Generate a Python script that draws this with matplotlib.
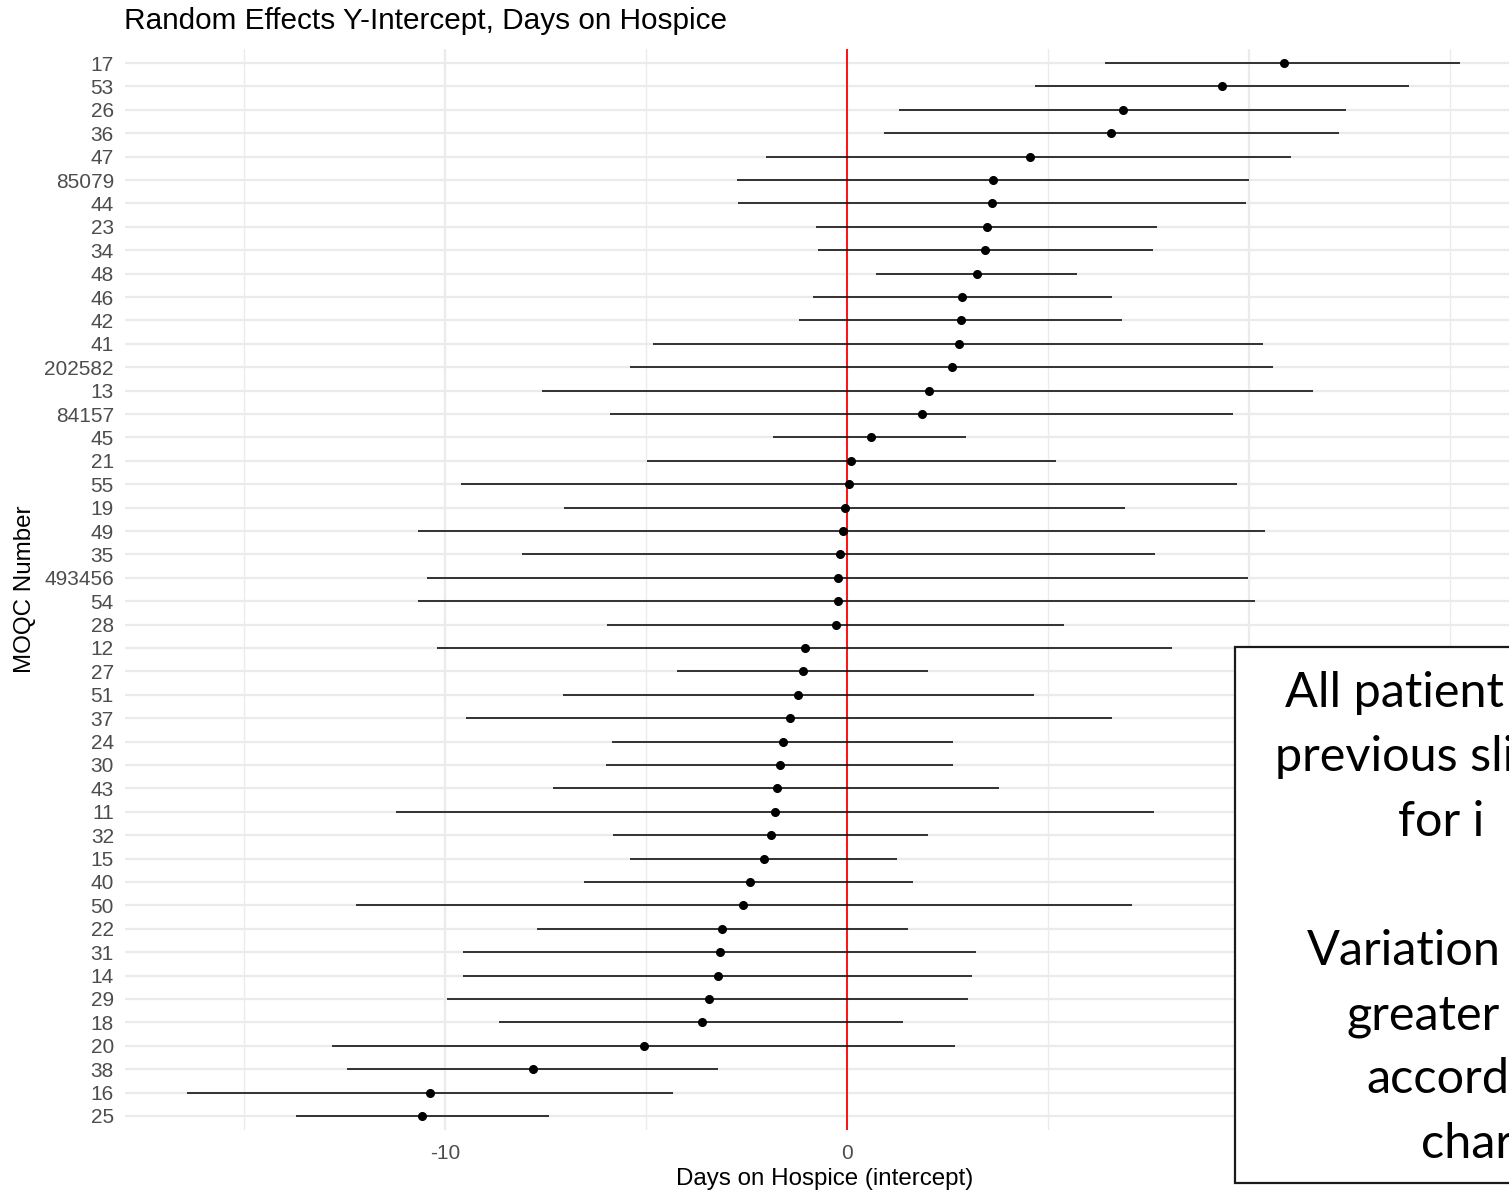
import numpy as np
import matplotlib
matplotlib.use("Agg")
import matplotlib.pyplot as plt
from matplotlib.patches import Rectangle

# MOQC numbers, top row first
moqc = ["17", "53", "26", "36", "47", "85079", "44", "23", "34", "48",
        "46", "42", "41", "202582", "13", "84157", "45", "21", "55", "19",
        "49", "35", "493456", "54", "28", "12", "27", "51", "37", "24",
        "30", "43", "11", "32", "15", "40", "50", "22", "31", "14",
        "29", "18", "20", "38", "16", "25"]

# random intercept estimate and interval ends (days)
est = [10.87, 9.33, 6.87, 6.57, 4.55, 3.63, 3.61, 3.48, 3.43, 3.23,
       2.86, 2.84, 2.79, 2.61, 2.04, 1.87, 0.60, 0.10, 0.05, -0.05,
       -0.10, -0.17, -0.22, -0.22, -0.27, -1.04, -1.09, -1.22, -1.42, -1.59,
       -1.67, -1.74, -1.79, -1.89, -2.06, -2.41, -2.59, -3.11, -3.16, -3.21,
       -3.43, -3.61, -5.05, -7.81, -10.37, -10.57]
lower = [6.42, 4.68, 1.29, 0.92, -2.01, -2.74, -2.71, -0.77, -0.72, 0.72,
         -0.85, -1.19, -4.83, -5.40, -7.59, -5.90, -1.84, -4.98, -9.60, -7.04,
         -10.67, -8.08, -10.45, -10.67, -5.97, -10.20, -4.23, -7.06, -9.48, -5.85,
         -6.00, -7.31, -11.22, -5.82, -5.40, -6.54, -12.21, -7.71, -9.55, -9.55,
         -9.95, -8.66, -12.81, -12.44, -16.42, -13.71]
upper = [15.25, 13.98, 12.41, 12.24, 11.04, 10.00, 9.93, 7.71, 7.61, 5.72,
         6.59, 6.84, 10.35, 10.60, 11.59, 9.60, 2.96, 5.20, 9.70, 6.92,
         10.40, 7.66, 9.98, 10.15, 5.40, 8.08, 2.01, 4.65, 6.59, 2.64,
         2.64, 3.78, 7.64, 2.01, 1.24, 1.64, 7.09, 1.52, 3.21, 3.11,
         3.01, 1.39, 2.69, -3.21, -4.33, -7.41]

x_ticks = [-10, 0, 10]
x_minor = [-15, -5, 5, 15]

# slide text box next to the chart (cut off at the right edge)
note_lines = ["All patient", "previous sli", "for i", "",
              "Variation", "greater", "accord", "char"]

W, H = 1509, 1192
plt.rcParams["font.family"] = ["Liberation Sans", "DejaVu Sans"]
plt.rcParams["axes.unicode_minus"] = False
fig = plt.figure(figsize=(W / 100, H / 100), dpi=100)

# axes runs a bit past the right edge, like the cropped slide
ax = fig.add_axes([125 / W, 1 - 1130 / H, (1524 - 125) / W, (1130 - 49) / H])

n = len(moqc)
ypos = np.arange(n)[::-1]

ax.hlines(ypos, lower, upper, color="black", lw=1.1, zorder=3)
ax.plot(est, ypos, "o", color="black", ms=5.5, zorder=4)
ax.axvline(0, color="red", lw=1.3, zorder=2)

ax.set_xlim(-17.96, 16.84)
ax.set_ylim(-0.6, n - 0.4)
ax.set_yticks(ypos)
ax.set_yticklabels(moqc)
ax.set_xticks(x_ticks)
ax.set_xticks(x_minor, minor=True)
ax.grid(which="major", color="#EBEBEB", lw=1.6, zorder=0)
ax.grid(which="minor", axis="x", color="#EBEBEB", lw=1.0, zorder=0)
ax.set_axisbelow(True)
for s in ax.spines.values():
    s.set_visible(False)
ax.tick_params(which="both", length=0)
ax.tick_params(axis="y", labelsize=15, labelcolor="#4D4D4D", pad=8)
ax.tick_params(axis="x", labelsize=15, labelcolor="#4D4D4D", pad=10)

ax.set_xlabel("Days on Hospice (intercept)", fontsize=17.4, labelpad=4)
ax.set_ylabel("MOQC Number", fontsize=17.4, labelpad=6)

fig.text(124 / W, 1 - 21 / H, "Random Effects Y-Intercept, Days on Hospice",
         fontsize=21.4, ha="left", va="center")

box = Rectangle((1235 / W, 1 - 1183 / H), 0.2, (1183 - 647) / H,
                transform=fig.transFigure, facecolor="white",
                edgecolor="#1a1a1a", lw=1.6, zorder=5)
fig.patches.append(box)

note_x = [1285, 1275, 1398, 0, 1307, 1347, 1366, 1421]
for i, line in enumerate(note_lines):
    if not line:
        continue
    fig.text(note_x[i] / W, 1 - (707 + 64.4 * i) / H, line,
             fontsize=35, family=["Lato", "DejaVu Sans"],
             ha="left", va="baseline", zorder=6)

fig.savefig("out.png", dpi=100)
